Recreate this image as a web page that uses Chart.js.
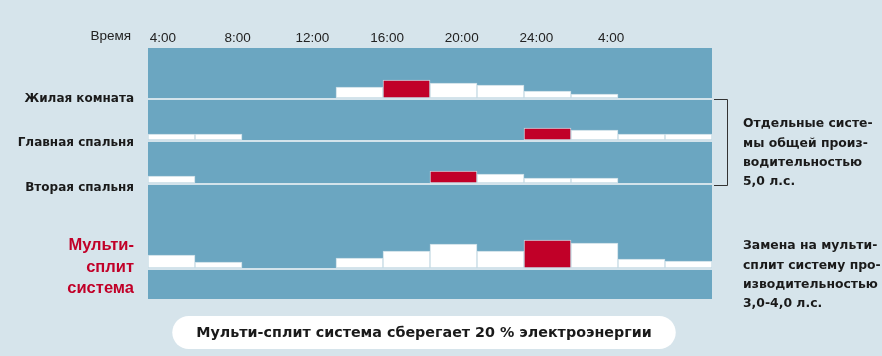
<!DOCTYPE html>
<html lang="ru">
<head>
<meta charset="utf-8">
<title>Мульти-сплит система</title>
<script src="https://cdn.jsdelivr.net/npm/chart.js@4.4.1/dist/chart.umd.min.js"></script>
<style>
  html, body { margin: 0; padding: 0; background: #d6e4eb; }
  #wrap { width: 882px; height: 356px; }
</style>
</head>
<body>
<div id="wrap"><canvas id="chart"></canvas></div>
<script>
// 12 time slots across the day, load per room (relative units)
const slots = ['1', '2', '3', '4', '5', '6', '7', '8', '9', '10', '11', '12'];
const livingRoom    = [null, null, null, null, 12, 19, 16, 14, 8, 5, null, null];
const masterBedroom = [7, 7, null, null, null, null, null, null, 13, 11, 7, 7];
const secondBedroom = [8, null, null, null, null, null, 13, 10, 6, 6, null, null];
const multiSplit    = [14, 7, null, null, 11, 18, 25, 18, 29, 26, 10, 8];

const rowNames = ['Жилая комната', 'Главная спальня', 'Вторая спальня', ['Мульти-', 'сплит', 'система']];

const timeTicks  = [4, 8, 12, 16, 20, 24, 28];
const timeLabels = ['4:00', '8:00', '12:00', '16:00', '20:00', '24:00', '4:00'];

const noteSeparate = ['Отдельные систе-', 'мы общей произ-', 'водительностью', '5,0 л.с.'];
const noteMulti    = ['Замена на мульти-', 'сплит систему про-', 'изводительностью', '3,0-4,0 л.с.'];
const savingText   = 'Мульти-сплит система сберегает 20 % электроэнергии';

const FONT = "'Liberation Sans', Arial, sans-serif";
const BOLD = "'DejaVu Sans', 'Liberation Sans', sans-serif";
const BG = '#d6e4eb';
const PANEL = '#6ba6c1';
const RED = '#c10028';

// the peak slot of each row is drawn red
function barColors(values) {
  const peak = Math.max(...values.filter(v => v !== null));
  return values.map(v => (v === peak ? RED : '#ffffff'));
}

function rowDataset(values, axis) {
  return {
    data: values,
    yAxisID: axis,
    backgroundColor: barColors(values),
    borderColor: '#c6dbe5',
    borderWidth: 1,
    borderSkipped: false,
    grouped: false,
    barPercentage: 1,
    categoryPercentage: 1,
  };
}

function rowAxis(index, max, weight, order, labelFont, labelColor, labelOffset) {
  return {
    type: 'linear',
    position: 'left',
    stack: 'rows',
    stackWeight: weight,
    weight: order,
    min: 0,
    max: max,
    z: 1,
    afterBuildTicks: (scale) => { scale.ticks = [{ value: 0 }]; },
    afterFit: (scale) => { scale.width = 148; },
    border: { display: false },
    grid: { color: '#d3e3eb', lineWidth: 2, drawTicks: false },
    ticks: {
      padding: 14,
      color: labelColor,
      font: labelFont,
      labelOffset: labelOffset,
      callback: () => rowNames[index],
    },
  };
}

const decorPlugin = {
  id: 'decor',
  beforeDraw(chart) {
    const { ctx, chartArea: a } = chart;
    ctx.save();
    ctx.fillStyle = BG;
    ctx.fillRect(0, 0, chart.width, chart.height);
    ctx.fillStyle = PANEL;
    ctx.fillRect(a.left, a.top, a.right - a.left, a.bottom - a.top);
    ctx.restore();
  },
  afterDraw(chart) {
    const { ctx, chartArea: a, scales } = chart;
    ctx.save();

    // "Время" caption
    ctx.fillStyle = '#222';
    ctx.font = '13.5px ' + FONT;
    ctx.textAlign = 'right';
    ctx.textBaseline = 'middle';
    ctx.fillText('Время', 131, 36);

    // bracket round the three separate rooms
    const yTop = scales.yLiving.bottom;
    const yBot = scales.ySecond.bottom + 1;
    ctx.strokeStyle = '#333';
    ctx.lineWidth = 1;
    ctx.beginPath();
    ctx.moveTo(a.right + 2, yTop + 0.5);
    ctx.lineTo(a.right + 15.5, yTop + 0.5);
    ctx.lineTo(a.right + 15.5, yBot + 0.5);
    ctx.lineTo(a.right + 2, yBot + 0.5);
    ctx.stroke();

    // notes on the right
    ctx.fillStyle = '#1a1a1a';
    ctx.font = 'bold 12.4px ' + BOLD;
    ctx.textAlign = 'left';
    noteSeparate.forEach((t, i) => ctx.fillText(t, 743, 124 + i * 19.3));
    noteMulti.forEach((t, i) => ctx.fillText(t, 743, 246 + i * 19.3));

    // saving pill
    ctx.font = 'bold 14.3px ' + BOLD;
    const w = ctx.measureText(savingText).width;
    const cx = 424, cy = 332.5;
    ctx.fillStyle = '#ffffff';
    ctx.beginPath();
    ctx.roundRect(cx - w / 2 - 24, cy - 16.5, w + 48, 33, 16.5);
    ctx.fill();
    ctx.fillStyle = '#1a1a1a';
    ctx.textAlign = 'center';
    ctx.fillText(savingText, cx, cy + 1);

    ctx.restore();
  },
};

const rowFont = { family: BOLD, size: 12, weight: 'bold' };
const multiFont = { family: FONT, size: 16.5, weight: 'bold', lineHeight: 1.32 };

new Chart(document.getElementById('chart'), {
  type: 'bar',
  data: {
    labels: slots,
    datasets: [
      rowDataset(livingRoom, 'yLiving'),
      rowDataset(masterBedroom, 'yMaster'),
      rowDataset(secondBedroom, 'ySecond'),
      rowDataset(multiSplit, 'yMulti'),
    ],
  },
  options: {
    responsive: true,
    maintainAspectRatio: false,
    animation: false,
    layout: { padding: { left: 0, right: 170, top: 0, bottom: 57 } },
    plugins: { legend: { display: false }, tooltip: { enabled: false } },
    scales: {
      x: { type: 'category', display: false },
      time: {
        type: 'linear',
        position: 'top',
        offset: false,
        min: 3.2,
        max: 33.4,
        afterBuildTicks: (scale) => { scale.ticks = timeTicks.map(v => ({ value: v })); },
        afterFit: (scale) => { scale.height = 48; },
        border: { display: false },
        grid: { display: false, offset: false },
        ticks: {
          padding: -6,
          color: '#222',
          font: { family: FONT, size: 13.5 },
          maxRotation: 0,
          autoSkip: false,
          callback: (v, i) => timeLabels[i],
        },
      },
      yLiving: rowAxis(0, 51, 51, 5, rowFont, '#1a1a1a', 0),
      yMaster: rowAxis(1, 42, 42, 4, rowFont, '#1a1a1a', 2),
      ySecond: rowAxis(2, 43, 43, 3, rowFont, '#1a1a1a', 4),
      yMulti: rowAxis(3, 85, 85, 2, multiFont, RED, -2),
      yStrip: {
        type: 'linear',
        position: 'left',
        stack: 'rows',
        stackWeight: 30,
        weight: 1,
        min: 0,
        max: 30,
        afterFit: (scale) => { scale.width = 148; },
        border: { display: false },
        grid: { display: false },
        ticks: { display: false },
      },
    },
  },
  plugins: [decorPlugin],
});
</script>
</body>
</html>
